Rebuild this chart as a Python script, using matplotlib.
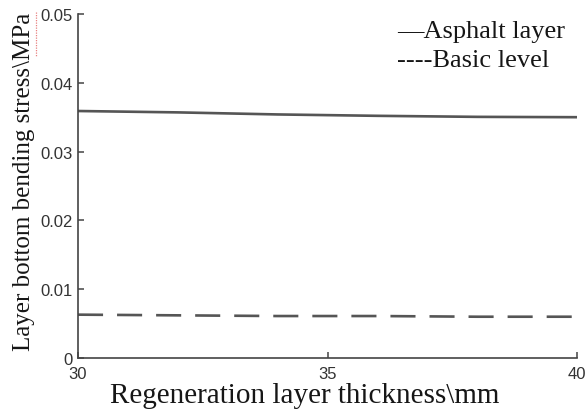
import numpy as np
import matplotlib
matplotlib.use('Agg')
from matplotlib import pyplot as plt
from matplotlib.lines import Line2D

# 再生层厚度 (mm)
thickness = [30, 32, 34, 36, 38, 40]
# 沥青层层底弯拉应力 (MPa)
asphalt = [0.0359, 0.0357, 0.0354, 0.0352, 0.03505, 0.0350]
# 基层层底弯拉应力 (MPa)
basic = [0.0063, 0.0062, 0.0061, 0.0061, 0.0060, 0.0060]

yticks = [0, 0.01, 0.02, 0.03, 0.04, 0.05]
ytick_labels = ['0', '0.01', '0.02', '0.03', '0.04', '0.05']
xticks = [30, 35, 40]

W, H = 588, 414
fig = plt.figure(figsize=(W / 100, H / 100), dpi=100)
ax = fig.add_axes([78 / W, 1 - 359 / H, 499 / W, 344 / H])

line_c = '#555555'
ax.plot(thickness, asphalt, color=line_c, lw=1.9, solid_capstyle='butt')
ax.plot(thickness, basic, color=line_c, lw=1.9, dashes=(9.5, 5.3))

ax.set_xlim(30, 40)
ax.set_ylim(0, 0.05)
ax.set_xticks(xticks)
ax.set_yticks(yticks)
ax.set_yticklabels(ytick_labels)

for s in ['top', 'right']:
    ax.spines[s].set_visible(False)
for s in ['left', 'bottom']:
    ax.spines[s].set_color('#444444')
    ax.spines[s].set_linewidth(1.2)

ax.tick_params(direction='in', length=4, width=1.1, color='#444444',
               labelcolor='#333333', labelsize=12)
ax.tick_params(axis='y', pad=4)
ax.tick_params(axis='x', pad=6)
for lab in ax.get_xticklabels() + ax.get_yticklabels():
    lab.set_family('Liberation Sans')

serif = 'Liberation Serif'
txt_c = '#161616'
fig.text(305 / W, 1 - 403 / H, 'Regeneration layer thickness\\mm',
         ha='center', va='baseline', fontsize=21, family=serif, color=txt_c)
fig.text(24 / W, 1 - 182 / H, 'Layer bottom bending stress\\MPa',
         ha='center', va='center', rotation=90, fontsize=18, family=serif,
         color=txt_c)

# 图例（文字形式）
fig.text(397 / W, 1 - 38 / H, '\u2014Asphalt layer', ha='left', va='baseline',
         fontsize=19, family=serif, color=txt_c)
fig.text(397 / W, 1 - 67 / H, '----Basic level', ha='left', va='baseline',
         fontsize=19, family=serif, color=txt_c)

# 拼写检查的红色虚线
fig.add_artist(Line2D([36 / W, 36 / W], [1 - 13 / H, 1 - 58 / H],
                      transform=fig.transFigure, color='#e88080', lw=0.9,
                      ls=(0, (1, 1))))

fig.savefig('out.png', dpi=100)
